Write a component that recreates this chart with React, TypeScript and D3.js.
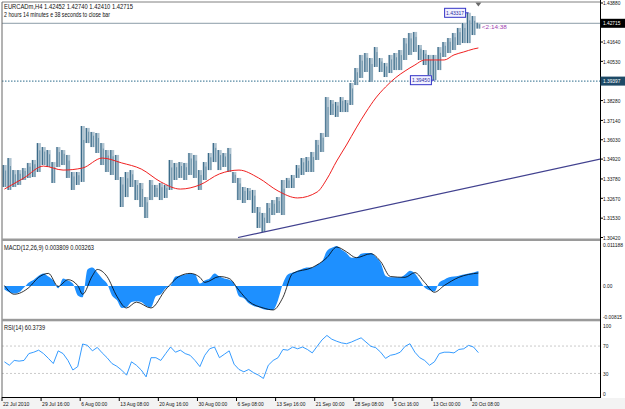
import * as d3 from "d3";

// EURCADm H4, one entry = 4 bars (16 hours), first entry 22 Jul 2010
const highs = [
  1.3458, 1.3498, 1.3429, 1.3429, 1.3441, 1.347, 1.3487, 1.3584, 1.3561, 1.3544,
  1.3475, 1.3561, 1.3544, 1.3516, 1.3418, 1.3418, 1.3682, 1.3671, 1.3648, 1.3642,
  1.3584, 1.3544, 1.3544, 1.3516, 1.3389, 1.3418, 1.3429, 1.3372, 1.3355, 1.3274,
  1.3372, 1.3344, 1.3355, 1.3344, 1.3487, 1.347, 1.3475, 1.347, 1.3527, 1.3516,
  1.3429, 1.3475, 1.3527, 1.3584, 1.3544, 1.3527, 1.3556, 1.3418, 1.3384, 1.3332,
  1.3326, 1.3315, 1.3217, 1.3183, 1.324, 1.3257, 1.3274, 1.3372, 1.3384, 1.3401,
  1.3458, 1.3498, 1.3504, 1.3533, 1.3602, 1.3642, 1.3848, 1.3831, 1.382, 1.3848,
  1.3831, 1.3929, 1.4015, 1.409, 1.4101, 1.4072, 1.4135, 1.4072, 1.4044, 1.409,
  1.4101, 1.4118, 1.4187, 1.4216, 1.4222, 1.4147, 1.4118, 1.409, 1.409, 1.4135,
  1.4164, 1.4187, 1.4216, 1.4245, 1.4273, 1.4332, 1.4313, 1.4274,
];
const lows = [
  1.3332, 1.3315, 1.3332, 1.3344, 1.3372, 1.3384, 1.3389, 1.3418, 1.3458, 1.3447,
  1.3355, 1.3447, 1.3458, 1.3384, 1.3315, 1.3344, 1.3361, 1.3584, 1.3561, 1.3527,
  1.3458, 1.3418, 1.3401, 1.3372, 1.3217, 1.3274, 1.3332, 1.3257, 1.3217, 1.3154,
  1.3257, 1.3274, 1.3257, 1.3269, 1.3315, 1.3372, 1.3384, 1.3372, 1.3401, 1.3384,
  1.3315, 1.3372, 1.3429, 1.3475, 1.3429, 1.3447, 1.3418, 1.3355, 1.3257, 1.324,
  1.3257, 1.3183, 1.3097, 1.3074, 1.3125, 1.3171, 1.3183, 1.3171, 1.3326, 1.3326,
  1.3384, 1.3401, 1.3418, 1.3418, 1.3487, 1.3533, 1.3619, 1.3745, 1.3734, 1.3762,
  1.3762, 1.3803, 1.3917, 1.3958, 1.3992, 1.3935, 1.4021, 1.3992, 1.3963, 1.3986,
  1.4003, 1.4003, 1.4061, 1.409, 1.4107, 1.4061, 1.4032, 1.3975, 1.3945, 1.4003,
  1.4078, 1.4101, 1.4118, 1.4147, 1.4158, 1.4158, 1.4204, 1.4241,
];

// moving average (red), read at a subset of entries
const maIdx = [0, 4, 8, 12, 16, 20, 24, 28, 32, 36, 40, 44, 48, 52, 56, 60, 64, 66, 68, 70, 72, 74, 76, 78, 80, 82, 84, 86, 88, 90, 92, 94, 96, 97];
const maVals = [
  1.332, 1.3384, 1.3452, 1.3429, 1.3441, 1.3498, 1.347, 1.3435, 1.3361, 1.332,
  1.3344, 1.3407, 1.3429, 1.3384, 1.3309, 1.3269, 1.3303, 1.3378, 1.3481, 1.3573,
  1.3671, 1.3762, 1.3843, 1.3906, 1.3958, 1.3998, 1.4032, 1.4061, 1.4061, 1.4061,
  1.409, 1.4107, 1.4124, 1.413,
];

// MACD(12,26,9) main histogram per entry
const macdHist = [
  -0.0009, -0.0016, -0.0019, -0.0016, -0.0004, 0.0009, 0.0016, 0.0026, 0.0032, 0.0024,
  0.0014, -0.0006, 0.0019, 0.0014, 0.0006, -0.0024, -0.0029, 0.0042, 0.0047, 0.0034,
  0.0019, 0.0006, -0.0024, -0.0036, -0.0056, -0.0054, -0.0041, -0.0039, -0.0041, -0.0051,
  -0.0054, -0.0026, -0.0021, -0.0006, 0.0001, 0.0024, 0.0026, 0.0029, 0.0032, 0.0029,
  0.0006, 0.0014, 0.0019, 0.0032, 0.0024, 0.0019, 0.0016, 0.0006, -0.0026, -0.0031,
  -0.0044, -0.0051, -0.0054, -0.0059, -0.0061, -0.0061, -0.0036, 0.0006, 0.0029, 0.0034,
  0.0039, 0.0044, 0.0047, 0.0047, 0.0054, 0.0062, 0.0089, 0.0097, 0.0102, 0.0092,
  0.0084, 0.0072, 0.0072, 0.0082, 0.0084, 0.0084, 0.0074, 0.0059, 0.0026, 0.0022,
  0.0022, 0.0022, 0.0029, 0.0039, 0.0032, 0.0014, -0.0004, -0.0011, -0.0014, 0.0009,
  0.0016, 0.0022, 0.0024, 0.0026, 0.0029, 0.0032, 0.0034, 0.0038,
];
// signal line
const sigIdx = [0, 2, 5, 7, 9, 11, 13, 15, 16, 18, 19, 21, 23, 25, 27, 30, 33, 36, 38, 40, 41, 44, 46, 48, 50, 53, 55, 57, 59, 63, 66, 68, 70, 72, 75, 77, 79, 82, 84, 86, 88, 90, 93, 97];
const sigVals = [
  0.0001, -0.0021, -0.0004, 0.0022, 0.0032, -0.0001, 0.0016, 0.0001, -0.0021, 0.0026,
  0.0042, 0.0024, -0.0026, -0.0056, -0.0041, -0.0056, -0.0009, 0.0026, 0.0032, 0.0022,
  0.0009, 0.0024, 0.0019, -0.0011, -0.0039, -0.0056, -0.0061, -0.0029, 0.0032, 0.0047,
  0.0072, 0.0099, 0.0087, 0.0072, 0.0082, 0.0062, 0.0024, 0.0022, 0.0034, 0.0009,
  -0.0016, 0.0001, 0.0022, 0.0033,
];

// RSI(14)
const rsiVals = [
  46.9, 42, 49, 48, 49, 59, 61, 64, 59, 52,
  44.5, 63, 59, 49, 35, 40, 73, 71, 63, 68,
  60, 53, 44.5, 40.5, 34.8, 27.5, 47, 42, 35, 25,
  53, 53, 49, 59, 68.6, 61, 64, 59, 56.5, 49,
  40, 56.5, 66, 68.6, 53, 58, 63, 43.5, 35.8, 32.4,
  35.8, 31, 27.5, 22.7, 42, 49, 53, 65, 64, 68.6,
  66, 68.6, 65, 60, 69.6, 79, 85.5, 80, 77, 74.6,
  73.4, 75.8, 79, 82, 75.8, 69.6, 67.6, 61, 52, 56.5,
  58, 61, 69.6, 73.4, 61, 53, 49, 42, 47, 59,
  61, 61, 60, 65, 66, 71, 68.6, 60.4,
];

const priceTicks = [1.3042, 1.3153, 1.3267, 1.3378, 1.3492, 1.3603, 1.3714, 1.3828, 1.3939, 1.4053, 1.4164, 1.4276, 1.4388];
const timeLabels = [
  "22 Jul 2010", "29 Jul 16:00", "6 Aug 00:00", "13 Aug 08:00", "20 Aug 16:00",
  "30 Aug 00:00", "6 Sep 08:00", "13 Sep 16:00", "21 Sep 00:00", "28 Sep 08:00",
  "5 Oct 16:00", "13 Oct 00:00", "20 Oct 08:00",
];
const macdTicks = [0.011188, 0, -0.00815];
const macdTickText = ["0.011188", "0.00", "-0.00815"];
const rsiTicks = [100, 70, 30, 0];
const rsiLevels = [70, 30];

const lastPrice = 1.42715;
const hLinePrice = 1.39397;
const hiIdx = 95;
const hiPrice = 1.43317;
const loIdx = 88;
const loPrice = 1.3945;
const trendIdx = [48.3, 122.4];
const trendVals = [1.3042, 1.3492];

const W = 625;
const H = 409;
const RIGHT = 600;
const STEP = 4.886;
const x = d3.scaleLinear([0, 98], [2, 2 + 98 * STEP]);
const yMain = d3.scaleLinear([1.3042, 1.4388], [237.5, 3]);
const yMacd = d3.scaleLinear([-0.00815, 0.011188], [318, 242]);
const yRsi = d3.scaleLinear([0, 100], [394, 325.5]);
const cx = (i: number) => x(i + 0.5);

function estWidth(s: string) {
  let w = 0;
  for (const c of s) {
    if (/[0-9]/.test(c)) w += 2.7;
    else if (c === " ") w += 1.3;
    else if (".,:".includes(c)) w += 1.2;
    else if ("-()".includes(c)) w += 1.6;
    else if (/[A-Z]/.test(c)) w += 3.6;
    else if ("iljt".includes(c)) w += 1.3;
    else if (c === "m") w += 3.8;
    else w += 2.6;
  }
  return w;
}

const Txt = ({ x, y, s, w, fill = "#111", size = 6.3 }: { x: number; y: number; s: string; w?: number; fill?: string; size?: number }) => (
  <text x={x} y={y} fontSize={size} fill={fill} textLength={w ?? estWidth(s)} lengthAdjust="spacingAndGlyphs">
    {s}
  </text>
);

const AX = 5.5;

const App = () => {
  const idx = d3.range(highs.length);
  const maLine = d3.line<number>((_, k) => cx(maIdx[k]), (d) => yMain(d)).curve(d3.curveMonotoneX);
  const histArea = d3
    .area<number>()
    .x((_, k) => cx(k))
    .y0(yMacd(0))
    .y1((d) => yMacd(d))
    .curve(d3.curveMonotoneX);
  const sigLine = d3.line<number>((_, k) => cx(sigIdx[k]), (d) => yMacd(d)).curve(d3.curveMonotoneX);
  const rsiLine = d3.line<number>((_, k) => cx(k), (d) => yRsi(d));

  const boxes = [yMain(lastPrice), yMain(hLinePrice)];
  const shownTicks = priceTicks.filter((v) => boxes.every((b) => Math.abs(yMain(v) - b) > 6));

  const hx = cx(hiIdx);
  const hy = yMain(hiPrice);
  const lx = cx(loIdx);
  const ly = yMain(loPrice);

  return (
    <div style={{ position: "absolute", left: 0, top: 0 }}>
      <svg width={W} height={H} style={{ display: "block", background: "#fff", fontFamily: "'Liberation Sans', Arial, sans-serif" }}>
        <defs>
          <clipPath id="mainClip">
            <rect x={2} y={2} width={RIGHT - 2} height={236} />
          </clipPath>
        </defs>
        <rect x={0} y={398} width={W} height={H - 398} fill="#f3f3f3" />

        {/* main panel */}
        <g clipPath="url(#mainClip)">
          <line x1={2} x2={RIGHT} y1={yMain(lastPrice)} y2={yMain(lastPrice)} stroke="#8c9ca8" strokeWidth={1} />
          <line x1={2} x2={RIGHT} y1={yMain(hLinePrice)} y2={yMain(hLinePrice)} stroke="#2b6a8a" strokeWidth={1} strokeDasharray="1.5,1.5" />
          {idx.map((i) => (
            <g key={i}>
              <rect x={x(i) + 0.2} width={STEP - 0.4} y={yMain(highs[i])} height={yMain(lows[i]) - yMain(highs[i])} fill="#afc3d0" />
              <line x1={x(i) + 1.3} x2={x(i) + 1.3} y1={yMain(highs[i])} y2={yMain(lows[i])} stroke="#3a6a88" strokeWidth={1.1} />
              <line x1={x(i) + 3.6} x2={x(i) + 3.6} y1={yMain(highs[i]) + 0.25 * (yMain(lows[i]) - yMain(highs[i]))} y2={yMain(lows[i])} stroke="#5a86a0" strokeWidth={0.8} />
            </g>
          ))}
          <path d={maLine(maVals) ?? ""} fill="none" stroke="#f02020" strokeWidth={1} />
          <line
            x1={x(trendIdx[0])}
            y1={yMain(trendVals[0])}
            x2={x(trendIdx[1])}
            y2={yMain(trendVals[1])}
            stroke="#41418f"
            strokeWidth={1.2}
          />
          {/* high / low marks */}
          <line x1={hx - 3} x2={hx} y1={hy} y2={hy} stroke="#3434c8" />
          <rect x={hx - 24} y={hy - 4.5} width={21} height={9} fill="#f2f2ff" stroke="#3434c8" strokeWidth={1} />
          <Txt x={hx - 22.5} y={hy + 2.2} s={hiPrice.toFixed(5)} w={18} fill="#2828a0" size={AX} />
          <line x1={lx - 3} x2={lx} y1={ly} y2={ly} stroke="#3434c8" />
          <rect x={lx - 24} y={ly - 4.5} width={21} height={9} fill="#f2f2ff" stroke="#3434c8" strokeWidth={1} />
          <Txt x={lx - 22.5} y={ly + 2.2} s={loPrice.toFixed(5)} w={18} fill="#2828a0" size={AX} />
          <Txt x={cx(97) + 3.5} y={yMain(lastPrice) + 5.8} s="<2:14:38" w={25} fill="#a040b0" size={AX} />
          <path d={`M${cx(97) - 3},2.5 L${cx(97) + 3},2.5 L${cx(97)},6.5 Z`} fill="#6a6a6a" />
        </g>
        <Txt x={4} y={8.5} s="EURCADm,H4 1.42452 1.42740 1.42410 1.42715" w={129} />
        <Txt x={4} y={16.5} s="2 hours 14 minutes e 38 seconds to close bar" w={106} />

        {/* MACD panel */}
        <path d={histArea(macdHist) ?? ""} fill="#1e90ff" />
        <path d={sigLine(sigVals) ?? ""} fill="none" stroke="#000" strokeWidth={0.8} />
        <Txt x={4} y={249.5} s="MACD(12,26,9) 0.003809 0.003263" w={90} />

        {/* RSI panel */}
        {rsiLevels.map((v) => (
          <line key={v} x1={2} x2={RIGHT} y1={yRsi(v)} y2={yRsi(v)} stroke="#bdbdbd" strokeWidth={0.8} strokeDasharray="2,2" />
        ))}
        <path d={rsiLine(rsiVals) ?? ""} fill="none" stroke="#1e90ff" strokeWidth={0.9} />
        <Txt x={4} y={329.5} s="RSI(14) 60.3739" w={41} />

        {/* frames */}
        <line x1={2} x2={RIGHT} y1={2} y2={2} stroke="#808080" />
        <line x1={2} x2={2} y1={2} y2={397} stroke="#666" />
        <rect x={2} y={238.5} width={RIGHT - 2} height={2.5} fill="#9a9a9a" />
        <rect x={2} y={318.8} width={RIGHT - 2} height={2.5} fill="#9a9a9a" />
        <line x1={2} x2={RIGHT} y1={397.5} y2={397.5} stroke="#000" />
        <line x1={RIGHT + 0.5} x2={RIGHT + 0.5} y1={0} y2={398} stroke="#000" />

        {/* right axis labels */}
        {shownTicks.map((v) => (
          <g key={v}>
            <line x1={RIGHT} x2={RIGHT + 3} y1={yMain(v)} y2={yMain(v)} stroke="#000" />
            <Txt x={RIGHT + 3} y={yMain(v) + 2.2} s={v.toFixed(5)} size={AX} />
          </g>
        ))}
        <rect x={RIGHT + 0.5} y={yMain(lastPrice) - 4.5} width={W - RIGHT} height={9} fill="#000" />
        <Txt x={RIGHT + 3} y={yMain(lastPrice) + 2.2} s={lastPrice.toFixed(5)} fill="#fff" size={AX} />
        <rect x={RIGHT + 0.5} y={yMain(hLinePrice) - 4.5} width={W - RIGHT} height={9} fill="#1e4a66" />
        <Txt x={RIGHT + 3} y={yMain(hLinePrice) + 2.2} s={hLinePrice.toFixed(5)} fill="#fff" size={AX} />
        {macdTicks.map((v, k) => (
          <Txt key={v} x={RIGHT + 3} y={yMacd(v) + (k === 0 ? 4.5 : k === 2 ? 0.5 : 2.2)} s={macdTickText[k]} size={5} />
        ))}
        {rsiTicks.map((v) => (
          <Txt key={v} x={RIGHT + 3} y={yRsi(v) + 2.2} s={String(v)} size={AX} />
        ))}

        {/* time axis */}
        {timeLabels.map((s, k) => (
          <g key={s}>
            <line x1={x(k * 8)} x2={x(k * 8)} y1={397} y2={401} stroke="#000" />
            <Txt x={x(k * 8) + 1} y={405.5} s={s} size={AX} />
          </g>
        ))}
      </svg>
    </div>
  );
};

export default App;
